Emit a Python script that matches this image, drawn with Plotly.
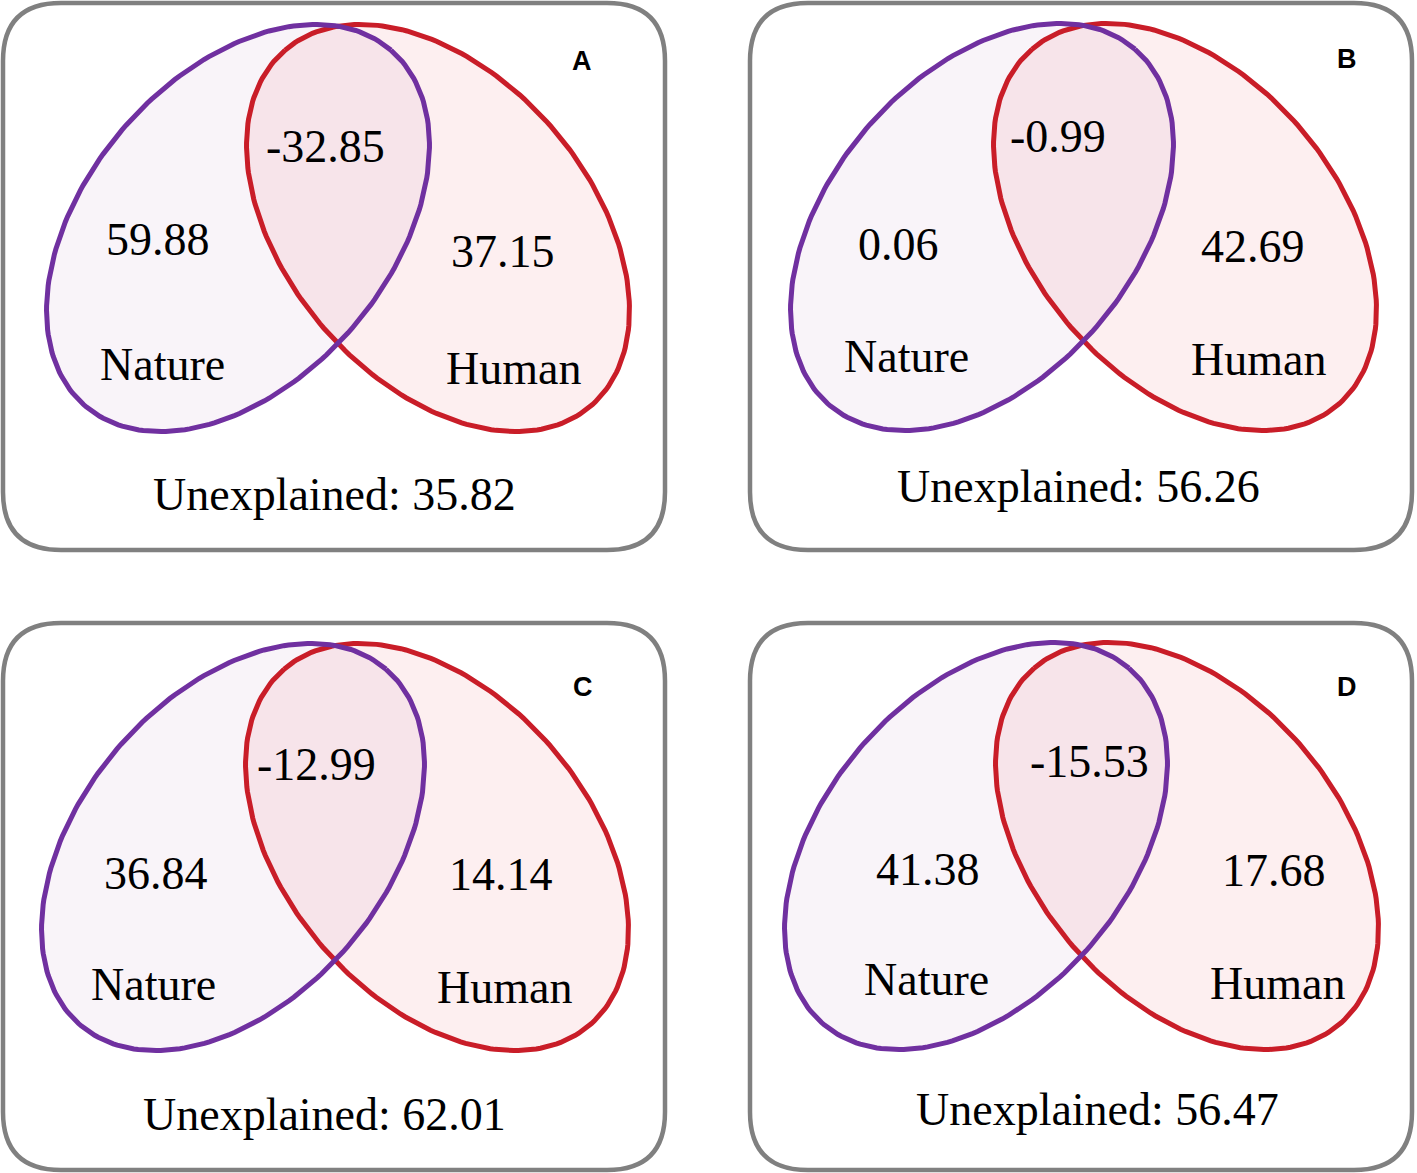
import numpy as np
import plotly.graph_objects as go

# Datos de las cuatro particiones de varianza
panels = ["A", "B", "C", "D"]
nature_only = ["59.88", "0.06", "36.84", "41.38"]
human_only = ["37.15", "42.69", "14.14", "17.68"]
shared = ["-32.85", "-0.99", "-12.99", "-15.53"]
unexplained = ["35.82", "56.26", "62.01", "56.47"]
set_names = ["Nature", "Human"]

# Geometría (pixeles, eje y invertido)
W, H = 1417, 1173
box_w, box_h, radius = 662, 547, 58
origins = [(3, 3), (750, 3), (3, 623), (750, 623)]
# centros de elipses relativos a cada caja
purple_c = [(235, 225), (232, 224), (230, 224), (226, 223)]
red_c = [(435, 225), (435, 224), (434, 224), (437, 223)]
# posiciones de textos relativas a cada caja
pos_shared = [(322, 143), (308, 133), (313, 141), (339, 138)]
pos_nat = [(155, 236), (148, 241), (153, 250), (178, 246)]
pos_hum = [(500, 248), (503, 243), (498, 251), (524, 247)]
pos_nat_lbl = [(159, 361), (156, 353), (150, 361), (176, 356)]
pos_hum_lbl = [(510, 365), (508, 356), (501, 364), (527, 360)]
pos_unexp = [(331, 491), (328, 483), (321, 491), (347, 486)]
pos_letter = [(579, 58), (597, 56), (580, 64), (597, 64)]

a_ax, b_ax, theta = 234.6, 151.9, np.radians(49.3)
PURPLE = "#7030a0"
RED = "#c91d28"
SERIF = "Liberation Serif, Times New Roman, serif"


def ellipse(cx, cy, ang):
    t = np.linspace(0, 2 * np.pi, 240)
    x = cx + a_ax * np.cos(t) * np.cos(ang) - b_ax * np.sin(t) * np.sin(ang)
    y = cy - (a_ax * np.cos(t) * np.sin(ang) + b_ax * np.sin(t) * np.cos(ang))
    return x, y


def rounded_box(x0, y0, w, h, r):
    x1, y1 = x0 + w, y0 + h
    return (f"M {x0+r},{y0} L {x1-r},{y0} Q {x1},{y0} {x1},{y0+r} "
            f"L {x1},{y1-r} Q {x1},{y1} {x1-r},{y1} L {x0+r},{y1} "
            f"Q {x0},{y1} {x0},{y1-r} L {x0},{y0+r} Q {x0},{y0} {x0+r},{y0} Z")


fig = go.Figure()
annotations = []
shapes = []

for i, p in enumerate(panels):
    ox, oy = origins[i]
    shapes.append(dict(type="path", path=rounded_box(ox, oy, box_w, box_h, radius),
                       line=dict(color="#808080", width=4.5), xref="x", yref="y",
                       layer="above"))

    px, py = ellipse(ox + purple_c[i][0], oy + purple_c[i][1], theta)
    rx, ry = ellipse(ox + red_c[i][0], oy + red_c[i][1], np.pi - theta)

    # rellenos primero, contornos después
    fig.add_trace(go.Scatter(x=px, y=py, mode="lines", fill="toself",
                             fillcolor="rgba(150,70,150,0.06)", line=dict(width=0),
                             hoverinfo="skip", showlegend=False))
    fig.add_trace(go.Scatter(x=rx, y=ry, mode="lines", fill="toself",
                             fillcolor="rgba(230,45,60,0.08)", line=dict(width=0),
                             hoverinfo="skip", showlegend=False))
    fig.add_trace(go.Scatter(x=rx, y=ry, mode="lines", line=dict(color=RED, width=5),
                             hoverinfo="skip", showlegend=False))
    fig.add_trace(go.Scatter(x=px, y=py, mode="lines", line=dict(color=PURPLE, width=5),
                             hoverinfo="skip", showlegend=False))

    texts = [
        (pos_shared[i], shared[i]),
        (pos_nat[i], nature_only[i]),
        (pos_hum[i], human_only[i]),
        (pos_nat_lbl[i], set_names[0]),
        (pos_hum_lbl[i], set_names[1]),
        (pos_unexp[i], "Unexplained: " + unexplained[i]),
    ]
    for (tx, ty), txt in texts:
        annotations.append(dict(x=ox + tx, y=oy + ty, text=txt, showarrow=False,
                                xanchor="center", yanchor="middle",
                                font=dict(family=SERIF, size=46, color="black")))
    annotations.append(dict(x=ox + pos_letter[i][0], y=oy + pos_letter[i][1], text="<b>" + p + "</b>",
                            showarrow=False, xanchor="center", yanchor="middle",
                            font=dict(family="Liberation Sans, Arial, sans-serif", size=27, color="black")))

fig.update_layout(
    width=W, height=H,
    margin=dict(l=0, r=0, t=0, b=0),
    paper_bgcolor="white", plot_bgcolor="white",
    xaxis=dict(range=[0, W], visible=False, fixedrange=True),
    yaxis=dict(range=[H, 0], visible=False, fixedrange=True),
    shapes=shapes,
    annotations=annotations,
    showlegend=False,
)

# quitar el margen por defecto del body para que la figura empiece en (0,0)
fig.write_html("out.html", post_script="document.body.style.margin='0px';",
               config={"displayModeBar": False})
